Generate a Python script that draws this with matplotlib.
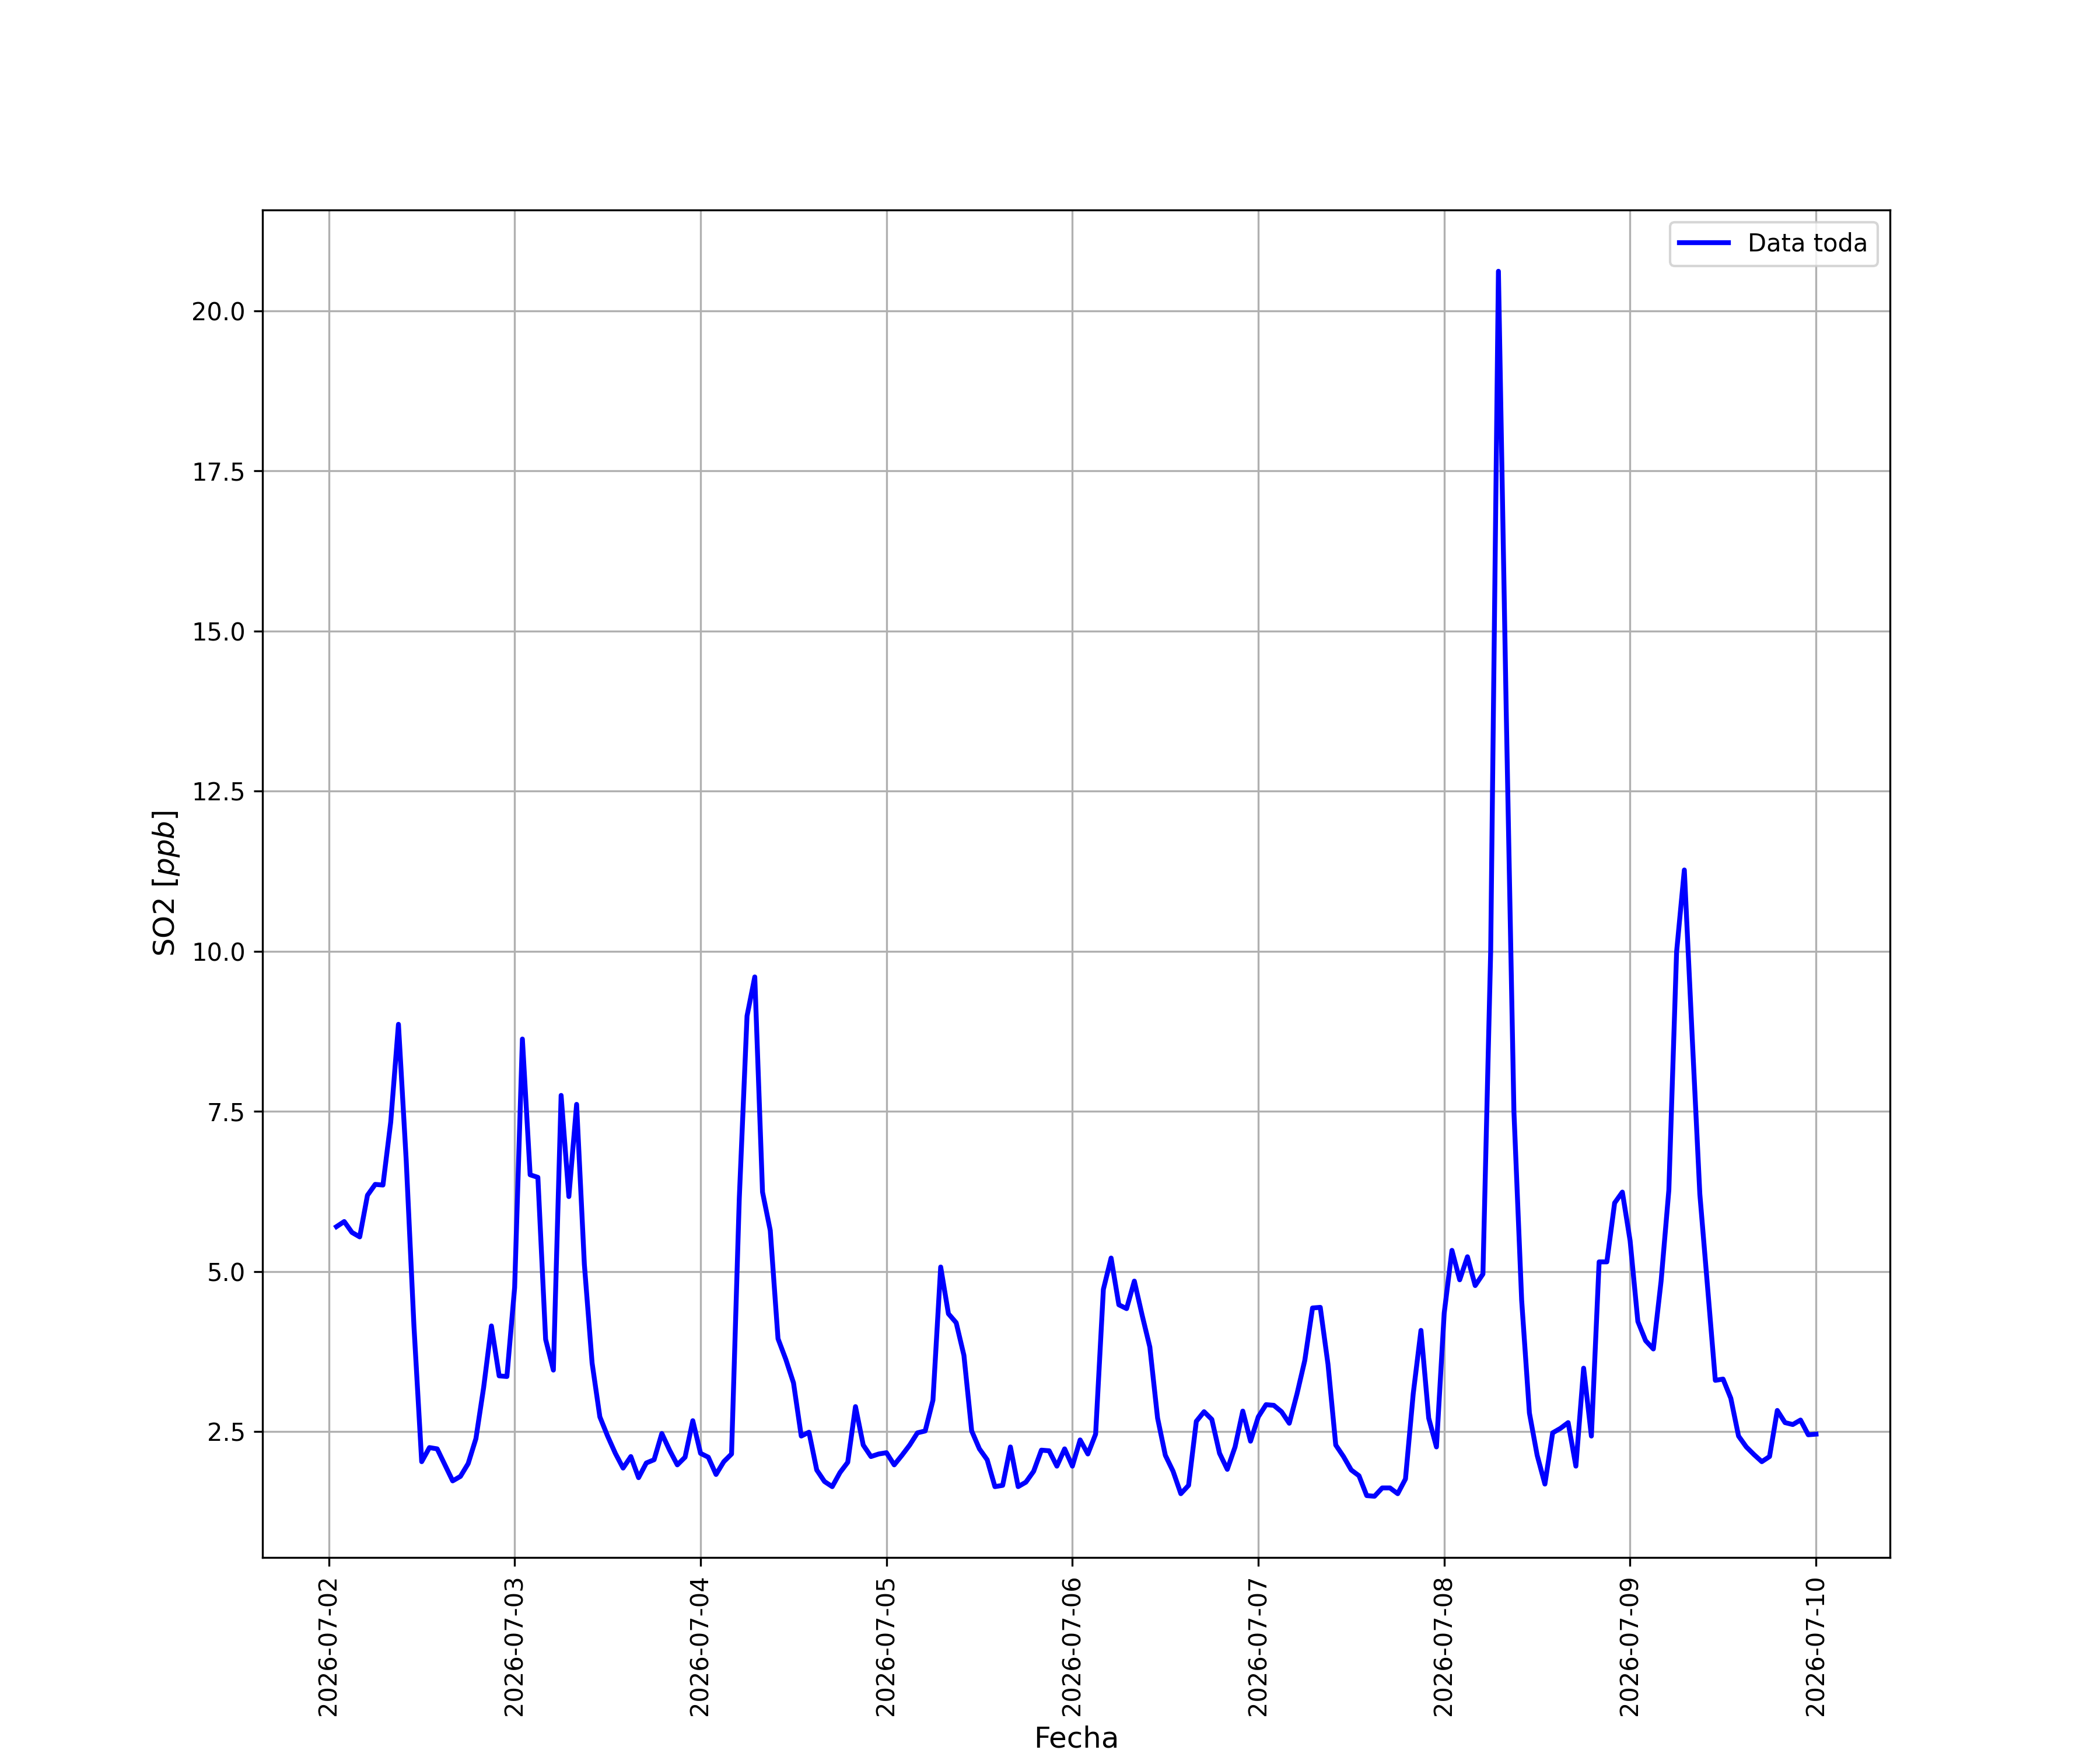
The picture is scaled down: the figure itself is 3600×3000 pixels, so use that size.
import pandas as pd
import numpy as np
import matplotlib
matplotlib.use('Agg')
import matplotlib.pyplot as plt

# SO2 hourly values (ppb), one list per day
so2_0702 = [5.70, 5.78, 5.61, 5.54, 6.19, 6.36, 6.35, 7.33, 8.86, 6.74, 4.15, 2.03,
            2.25, 2.23, 1.98, 1.73, 1.80, 2.00, 2.39, 3.19, 4.15, 3.37, 3.36]  # from 01:00
so2_0703 = [4.75, 8.63, 6.51, 6.47, 3.94, 3.46, 7.75, 6.17, 7.61, 5.11, 3.57, 2.73,
            2.43, 2.16, 1.93, 2.11, 1.78, 2.01, 2.06, 2.47, 2.21, 1.98, 2.10, 2.67]
so2_0704 = [2.16, 2.10, 1.83, 2.03, 2.15, 6.14, 8.99, 9.60, 6.24, 5.64, 3.95, 3.63,
            3.26, 2.43, 2.49, 1.90, 1.72, 1.64, 1.86, 2.02, 2.89, 2.29, 2.11, 2.15]
so2_0705 = [2.17, 1.98, 2.13, 2.29, 2.48, 2.51, 2.99, 5.07, 4.34, 4.20, 3.69, 2.51,
            2.23, 2.06, 1.64, 1.66, 2.26, 1.64, 1.71, 1.88, 2.21, 2.20, 1.96, 2.23]
so2_0706 = [1.96, 2.37, 2.15, 2.46, 4.72, 5.21, 4.48, 4.42, 4.85, 4.32, 3.82, 2.71,
            2.13, 1.88, 1.53, 1.66, 2.66, 2.81, 2.69, 2.16, 1.91, 2.26, 2.82, 2.35]
so2_0707 = [2.73, 2.92, 2.91, 2.81, 2.63, 3.09, 3.61, 4.43, 4.44, 3.55, 2.29, 2.11,
            1.90, 1.81, 1.50, 1.49, 1.62, 1.62, 1.53, 1.76, 3.09, 4.08, 2.71, 2.26]
so2_0708 = [4.35, 5.33, 4.87, 5.23, 4.78, 4.96, 10.00, 20.62, 13.80, 7.50, 4.55, 2.79,
            2.13, 1.68, 2.48, 2.55, 2.64, 1.96, 3.49, 2.43, 5.15, 5.15, 6.07, 6.24]
so2_0709 = [5.48, 4.22, 3.92, 3.79, 4.85, 6.27, 9.99, 11.27, 8.70, 6.21, 4.75, 3.30,
            3.32, 3.02, 2.43, 2.26, 2.14, 2.03, 2.11, 2.83, 2.64, 2.61, 2.68, 2.45]
so2_0710 = [2.46]  # 00:00

so2 = (so2_0702 + so2_0703 + so2_0704 + so2_0705 + so2_0706 +
       so2_0707 + so2_0708 + so2_0709 + so2_0710)
fechas = pd.date_range('2026-07-02 01:00', periods=len(so2), freq='h')

fig, ax = plt.subplots(figsize=(12, 10))
ax.plot(fechas, so2, color='blue', linewidth=2, label='Data toda')

ax.set_xlabel('Fecha', fontsize=12)
ax.set_ylabel('SO2 $[ppb]$', fontsize=12)
ax.grid(True)
ax.legend(loc='upper right')
plt.xticks(rotation=90)

plt.savefig('out.png', dpi=300)
